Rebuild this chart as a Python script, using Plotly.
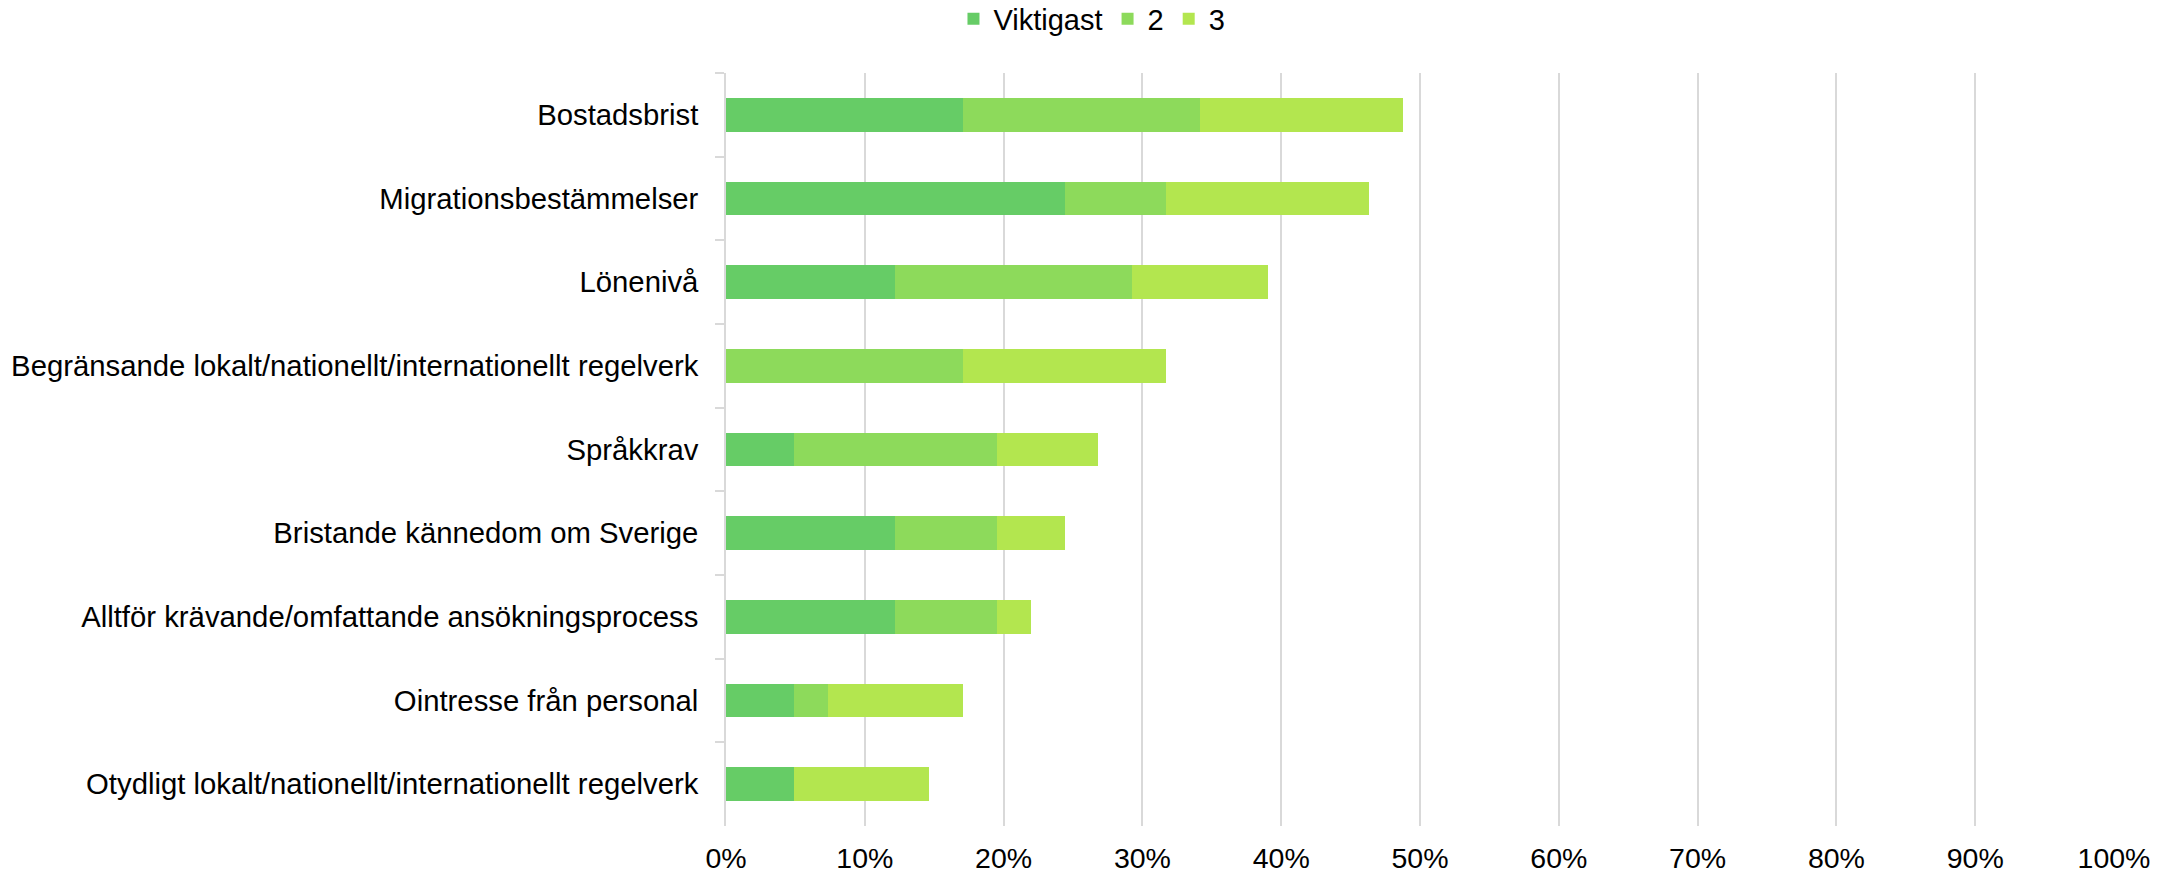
import plotly.graph_objects as go

categories = [
    "Bostadsbrist",
    "Migrationsbestämmelser",
    "Lönenivå",
    "Begränsande lokalt/nationellt/internationellt regelverk",
    "Språkkrav",
    "Bristande kännedom om Sverige",
    "Alltför krävande/omfattande ansökningsprocess",
    "Ointresse från personal",
    "Otydligt lokalt/nationellt/internationellt regelverk",
]

viktigast = [0.1707, 0.2439, 0.1220, 0.0, 0.0488, 0.1220, 0.1220, 0.0488, 0.0488]
andra = [0.1707, 0.0732, 0.1707, 0.1707, 0.1463, 0.0732, 0.0732, 0.0244, 0.0]
tredje = [0.1463, 0.1463, 0.0976, 0.1463, 0.0732, 0.0488, 0.0244, 0.0976, 0.0976]

series_names = ["Viktigast", "2", "3"]
series_colors = ["#66CC66", "#8DDA5B", "#B3E64F"]
x_ticks = [i / 10 for i in range(11)]
x_tick_labels = [f"{i * 10}%" for i in range(11)]

FONT = "Liberation Sans, Arial, sans-serif"

fig = go.Figure()
for name, vals, col in zip(series_names, [viktigast, andra, tredje], series_colors):
    fig.add_trace(go.Bar(
        y=categories, x=vals, name=name, orientation="h",
        marker=dict(color=col, line=dict(width=0)),
    ))

fig.update_layout(
    barmode="stack",
    bargap=0.6,
    width=2177, height=875,
    margin=dict(l=726, r=63, t=73, b=49, autoexpand=False),
    paper_bgcolor="white", plot_bgcolor="white",
    font=dict(family=FONT, size=29.3, color="#000000"),
    legend=dict(
        orientation="h", xref="container", yref="paper",
        x=0.5016, xanchor="center", y=1.0717, yanchor="middle",
        font=dict(size=29), traceorder="normal",
        itemwidth=30, tracegroupgap=0,
    ),
    xaxis=dict(
        range=[0, 1.0], tickvals=x_ticks, ticktext=x_tick_labels,
        showgrid=True, gridcolor="#D9D9D9", gridwidth=1.5,
        zeroline=False, showline=False, ticks="",
        tickfont=dict(size=28.5), ticklabelstandoff=12,
    ),
    yaxis=dict(
        categoryorder="array", categoryarray=categories,
        autorange="reversed",
        showline=True, linecolor="#D9D9D9", linewidth=1.5,
        ticks="outside", tickson="boundaries", ticklen=9,
        tickcolor="#D9D9D9", tickwidth=1.5,
        showgrid=False, tickfont=dict(size=29.3),
        ticklabelstandoff=20,
    ),
)

fig.write_html(
    "out.html",
    config={"displayModeBar": False},
    post_script="document.body.style.margin='0';",
)
